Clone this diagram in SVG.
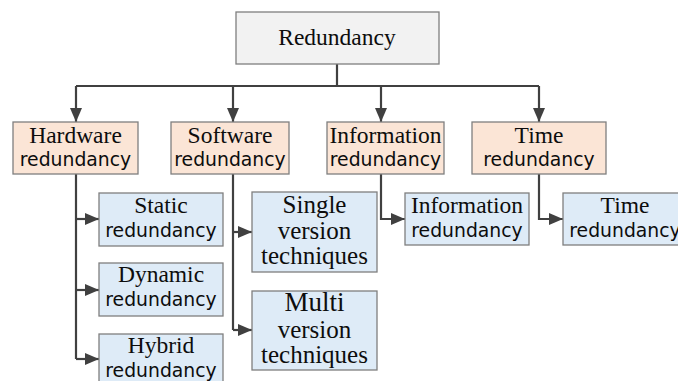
<svg xmlns="http://www.w3.org/2000/svg" width="678" height="381" viewBox="0 0 678 381">
  <style>
    .box { stroke: #7f7f7f; stroke-width: 1.3; }
    .root { fill: #f2f2f2; }
    .cat { fill: #fbe5d6; }
    .leaf { fill: #deebf7; }
    .serif { font-family: "Liberation Serif", "Times New Roman", serif; font-size: 23.5px; fill: #0d0d0d; text-anchor: middle; }
    .sans { font-family: "DejaVu Sans", Verdana, sans-serif; font-size: 18.8px; fill: #0d0d0d; text-anchor: middle; }
    .sw { font-size: 25px; }
    .big { font-size: 27px; }
    .wire { fill: none; stroke: #404040; stroke-width: 2.2; }
  </style>
  <defs>
    <marker id="arrow" markerUnits="userSpaceOnUse" markerWidth="14" markerHeight="12" refX="14" refY="6" orient="auto">
      <path d="M0,0 L14,6 L0,12 Z" fill="#404040"/>
    </marker>
  </defs>

  <rect width="678" height="381" fill="#ffffff"/>

  <!-- connectors -->
  <g id="connectors">
    <path class="wire" d="M337,64 V86 M76,86 H539"/>
    <path class="wire" d="M76,86 V122" marker-end="url(#arrow)"/>
    <path class="wire" d="M233,86 V122" marker-end="url(#arrow)"/>
    <path class="wire" d="M381,86 V122" marker-end="url(#arrow)"/>
    <path class="wire" d="M539,86 V122" marker-end="url(#arrow)"/>

    <path class="wire" d="M76,174 V359"/>
    <path class="wire" d="M76,219 H99" marker-end="url(#arrow)"/>
    <path class="wire" d="M76,290 H99" marker-end="url(#arrow)"/>
    <path class="wire" d="M76,359 H99" marker-end="url(#arrow)"/>

    <path class="wire" d="M233,174 V330"/>
    <path class="wire" d="M233,232 H252" marker-end="url(#arrow)"/>
    <path class="wire" d="M233,330 H252" marker-end="url(#arrow)"/>

    <path class="wire" d="M381,174 V219 H405" marker-end="url(#arrow)"/>
    <path class="wire" d="M539,174 V219 H563" marker-end="url(#arrow)"/>
  </g>

  <!-- root -->
  <g id="redundancy">
    <rect class="box root" x="236" y="12" width="203" height="52"/>
    <text class="serif" x="337" y="45">Redundancy</text>
  </g>

  <!-- categories -->
  <g id="hardware">
    <rect class="box cat" x="13" y="122" width="125" height="52"/>
    <text class="serif" x="75.5" y="143">Hardware</text>
    <text class="sans" x="75.5" y="166">redundancy</text>
  </g>
  <g id="software">
    <rect class="box cat" x="171" y="122" width="118" height="52"/>
    <text class="serif" x="230" y="143">Software</text>
    <text class="sans" x="230" y="166">redundancy</text>
  </g>
  <g id="information">
    <rect class="box cat" x="327" y="122" width="117" height="52"/>
    <text class="serif" x="385.5" y="143">Information</text>
    <text class="sans" x="385.5" y="166">redundancy</text>
  </g>
  <g id="time">
    <rect class="box cat" x="472" y="122" width="134" height="52"/>
    <text class="serif" x="539" y="143">Time</text>
    <text class="sans" x="539" y="166">redundancy</text>
  </g>

  <!-- hardware techniques -->
  <g id="static">
    <rect class="box leaf" x="99" y="193" width="124" height="53"/>
    <text class="serif" x="161" y="213">Static</text>
    <text class="sans" x="161" y="237">redundancy</text>
  </g>
  <g id="dynamic">
    <rect class="box leaf" x="99" y="263" width="124" height="53"/>
    <text class="serif" x="161" y="282">Dynamic</text>
    <text class="sans" x="161" y="306">redundancy</text>
  </g>
  <g id="hybrid">
    <rect class="box leaf" x="99" y="334" width="124" height="60"/>
    <text class="serif" x="161" y="353">Hybrid</text>
    <text class="sans" x="161" y="377">redundancy</text>
  </g>

  <!-- software techniques -->
  <g id="single-version">
    <rect class="box leaf" x="252" y="192" width="125" height="80"/>
    <text class="serif sw" x="314.5" y="213">Single</text>
    <text class="serif sw" x="314.5" y="239">version</text>
    <text class="serif sw" x="314.5" y="264">techniques</text>
  </g>
  <g id="multi-version">
    <rect class="box leaf" x="252" y="291" width="125" height="79"/>
    <text class="serif big" x="314.5" y="311">Multi</text>
    <text class="serif sw" x="314.5" y="338">version</text>
    <text class="serif sw" x="314.5" y="363">techniques</text>
  </g>

  <!-- information and time techniques -->
  <g id="information-redundancy">
    <rect class="box leaf" x="405" y="193" width="124" height="52"/>
    <text class="serif" x="467" y="213">Information</text>
    <text class="sans" x="467" y="237">redundancy</text>
  </g>
  <g id="time-redundancy">
    <rect class="box leaf" x="563" y="193" width="124" height="52"/>
    <text class="serif" x="625" y="213">Time</text>
    <text class="sans" x="625" y="237">redundancy</text>
  </g>
</svg>
